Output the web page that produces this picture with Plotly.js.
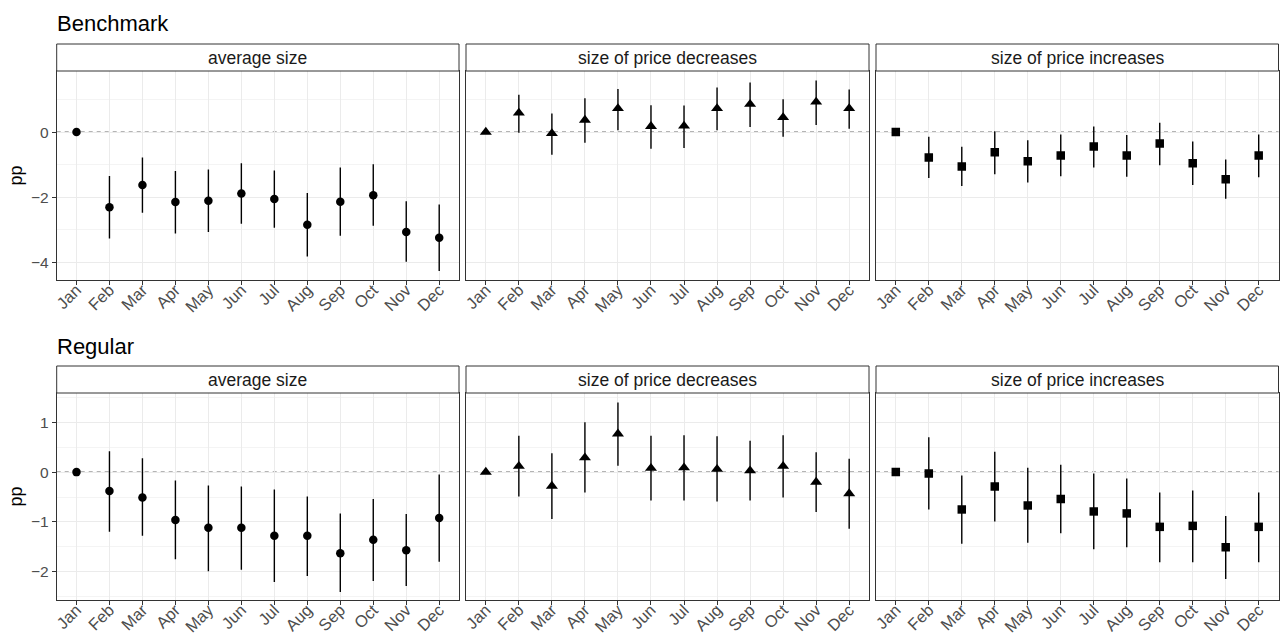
<!DOCTYPE html>
<html>
<head>
<meta charset="utf-8">
<script src="https://cdn.plot.ly/plotly-3.0.1.min.js"></script>
<style>
  html, body { margin: 0; padding: 0; background: #fff; }
  #chart { width: 1280px; height: 638px; }
</style>
</head>
<body>
<div id="chart"></div>
<script>
// ---------- DATA ----------
const months = ["Jan","Feb","Mar","Apr","May","Jun","Jul","Aug","Sep","Oct","Nov","Dec"];
const panelNames = ["average size","size of price decreases","size of price increases"];
const rowTitles = ["Benchmark","Regular"];

// Benchmark: average size
const benchAvgVal = [0, -2.31, -1.63, -2.15, -2.11, -1.89, -2.06, -2.85, -2.14, -1.94, -3.07, -3.25];
const benchAvgLo  = [0, -3.27, -2.48, -3.12, -3.07, -2.82, -2.94, -3.83, -3.19, -2.88, -3.99, -4.27];
const benchAvgHi  = [0, -1.35, -0.78, -1.20, -1.15, -0.96, -1.18, -1.87, -1.09, -0.99, -2.13, -2.23];
// Benchmark: size of price decreases
const benchDecVal = [0, 0.59, -0.04, 0.37, 0.73, 0.18, 0.19, 0.73, 0.86, 0.45, 0.93, 0.73];
const benchDecLo  = [0, -0.02, -0.70, -0.33, 0.06, -0.51, -0.49, 0.06, 0.16, -0.14, 0.22, 0.10];
const benchDecHi  = [0, 1.15, 0.57, 1.04, 1.33, 0.83, 0.82, 1.37, 1.53, 1.01, 1.59, 1.31];
// Benchmark: size of price increases
const benchIncVal = [0, -0.78, -1.06, -0.62, -0.90, -0.72, -0.44, -0.72, -0.35, -0.96, -1.45, -0.72];
const benchIncLo  = [0, -1.41, -1.66, -1.30, -1.55, -1.36, -1.09, -1.37, -1.02, -1.63, -2.05, -1.39];
const benchIncHi  = [0, -0.14, -0.45, 0.03, -0.25, -0.07, 0.17, -0.09, 0.29, -0.29, -0.84, -0.07];
// Regular: average size
const regAvgVal = [0, -0.38, -0.51, -0.96, -1.12, -1.12, -1.28, -1.28, -1.63, -1.36, -1.57, -0.92];
const regAvgLo  = [0, -1.20, -1.28, -1.75, -1.99, -1.96, -2.21, -2.09, -2.41, -2.19, -2.29, -1.80];
const regAvgHi  = [0, 0.42, 0.28, -0.17, -0.27, -0.29, -0.35, -0.49, -0.83, -0.54, -0.84, -0.05];
// Regular: size of price decreases
const regDecVal = [0, 0.12, -0.28, 0.29, 0.77, 0.08, 0.09, 0.06, 0.03, 0.12, -0.20, -0.43];
const regDecLo  = [0, -0.49, -0.94, -0.41, 0.13, -0.57, -0.57, -0.59, -0.57, -0.51, -0.80, -1.14];
const regDecHi  = [0, 0.73, 0.38, 1.00, 1.40, 0.73, 0.74, 0.72, 0.63, 0.74, 0.40, 0.27];
// Regular: size of price increases
const regIncVal = [0, -0.03, -0.75, -0.29, -0.67, -0.54, -0.79, -0.83, -1.10, -1.08, -1.51, -1.10];
const regIncLo  = [0, -0.75, -1.44, -0.99, -1.42, -1.23, -1.55, -1.51, -1.81, -1.81, -2.15, -1.81];
const regIncHi  = [0, 0.70, -0.07, 0.41, 0.09, 0.15, -0.03, -0.13, -0.41, -0.37, -0.88, -0.41];

// ---------- LAYOUT HELPERS ----------
const W = 1280, H = 638;
const px2x = p => p / W;
const px2y = p => (H - p) / H;

const colPx = [[56.7, 459], [466, 869], [876, 1278.5]];
const rowPx = [{strip: [44, 71], panel: [71, 280], title: 24, range: [-4.55, 1.88], dtick: 2},
               {strip: [366, 393], panel: [393, 600], title: 346, range: [-2.57, 1.59], dtick: 1}];

const seriesDefs = [
  [benchAvgVal, benchAvgLo, benchAvgHi, "circle", 8.5],
  [benchDecVal, benchDecLo, benchDecHi, "triangle-up", 10.5],
  [benchIncVal, benchIncLo, benchIncHi, "square", 8.5],
  [regAvgVal, regAvgLo, regAvgHi, "circle", 8.5],
  [regDecVal, regDecLo, regDecHi, "triangle-up", 10.5],
  [regIncVal, regIncLo, regIncHi, "square", 8.5]
];

const fontFam = "Liberation Sans, Arial, Helvetica, sans-serif";
const traces = [];
const layout = {
  width: W, height: H,
  margin: {l: 0, r: 0, t: 0, b: 0},
  paper_bgcolor: "#fff", plot_bgcolor: "#fff",
  showlegend: false,
  font: {family: fontFam, color: "#1A1A1A"},
  shapes: [], annotations: []
};

for (let r = 0; r < 2; r++) {
  const row = rowPx[r];
  for (let c = 0; c < 3; c++) {
    const idx = r * 3 + c + 1;
    const xa = idx === 1 ? "x" : "x" + idx;
    const ya = idx === 1 ? "y" : "y" + idx;
    const xKey = idx === 1 ? "xaxis" : "xaxis" + idx;
    const yKey = idx === 1 ? "yaxis" : "yaxis" + idx;
    const [val, lo, hi, sym, msize] = seriesDefs[idx - 1];

    traces.push({
      type: "scatter", mode: "markers",
      x: months, y: val, xaxis: xa, yaxis: ya,
      marker: {symbol: sym, size: msize, color: "#000"},
      error_y: {
        type: "data", symmetric: false,
        array: hi.map((h, i) => h - val[i]),
        arrayminus: lo.map((l, i) => val[i] - l),
        width: 0, thickness: 1.4, color: "#000"
      },
      hoverinfo: "x+y"
    });

    layout[xKey] = {
      domain: [px2x(colPx[c][0]), px2x(colPx[c][1])],
      anchor: ya,
      type: "category", categoryorder: "array", categoryarray: months,
      range: [-0.6, 11.6],
      showgrid: true, gridcolor: "#EBEBEB", gridwidth: 1,
      zeroline: false,
      showline: true, linecolor: "#333333", linewidth: 1, mirror: true,
      ticks: "outside", ticklen: 4, tickcolor: "#333333", tickwidth: 1,
      tickangle: -45,
      ticklabelstandoff: -11,
      tickfont: {family: fontFam, size: 16.5, color: "#4D4D4D"},
      fixedrange: true
    };
    const yObj = {
      domain: [px2y(row.panel[1]), px2y(row.panel[0])],
      anchor: xa,
      range: row.range,
      dtick: row.dtick, tick0: 0,
      showgrid: true, gridcolor: "#EBEBEB", gridwidth: 1.1,
      minor: {dtick: row.dtick / 2, tick0: 0, showgrid: true, gridcolor: "#F0F0F0", gridwidth: 0.7},
      zeroline: false,
      showline: true, linecolor: "#333333", linewidth: 1, mirror: true,
      fixedrange: true
    };
    if (c === 0) {
      Object.assign(yObj, {
        ticks: "outside", ticklen: 4, tickcolor: "#333333", tickwidth: 1,
        showticklabels: true,
        tickfont: {family: fontFam, size: 15.5, color: "#4D4D4D"},
        title: {text: "pp", font: {family: fontFam, size: 18, color: "#000"}, standoff: 3}
      });
    } else {
      Object.assign(yObj, {ticks: "", showticklabels: false, matches: r === 0 ? "y" : "y4"});
    }
    layout[yKey] = yObj;

    // dashed zero line
    layout.shapes.push({
      type: "line", xref: xa + " domain", yref: ya,
      x0: 0, x1: 1, y0: 0, y1: 0,
      line: {color: "#6A6A6A", width: 1.3, dash: "4px,4px"}, layer: "below"
    });
    // strip box
    layout.shapes.push({
      type: "rect", xref: "paper", yref: "paper",
      x0: px2x(colPx[c][0]), x1: px2x(colPx[c][1]),
      y0: px2y(row.strip[1]), y1: px2y(row.strip[0]),
      fillcolor: "#fff", line: {color: "#333333", width: 1}
    });
    layout.annotations.push({
      xref: "paper", yref: "paper",
      x: px2x((colPx[c][0] + colPx[c][1]) / 2),
      y: px2y((row.strip[0] + row.strip[1]) / 2),
      text: panelNames[c], showarrow: false,
      xanchor: "center", yanchor: "middle",
      font: {family: fontFam, size: 17.5, color: "#1A1A1A"}
    });
  }
  layout.annotations.push({
    xref: "paper", yref: "paper",
    x: px2x(55), y: px2y(row.title),
    text: rowTitles[r], showarrow: false,
    xanchor: "left", yanchor: "middle",
    font: {family: fontFam, size: 22, color: "#000"}
  });
}

Plotly.newPlot("chart", traces, layout, {staticPlot: true, displayModeBar: false});
</script>
</body>
</html>
